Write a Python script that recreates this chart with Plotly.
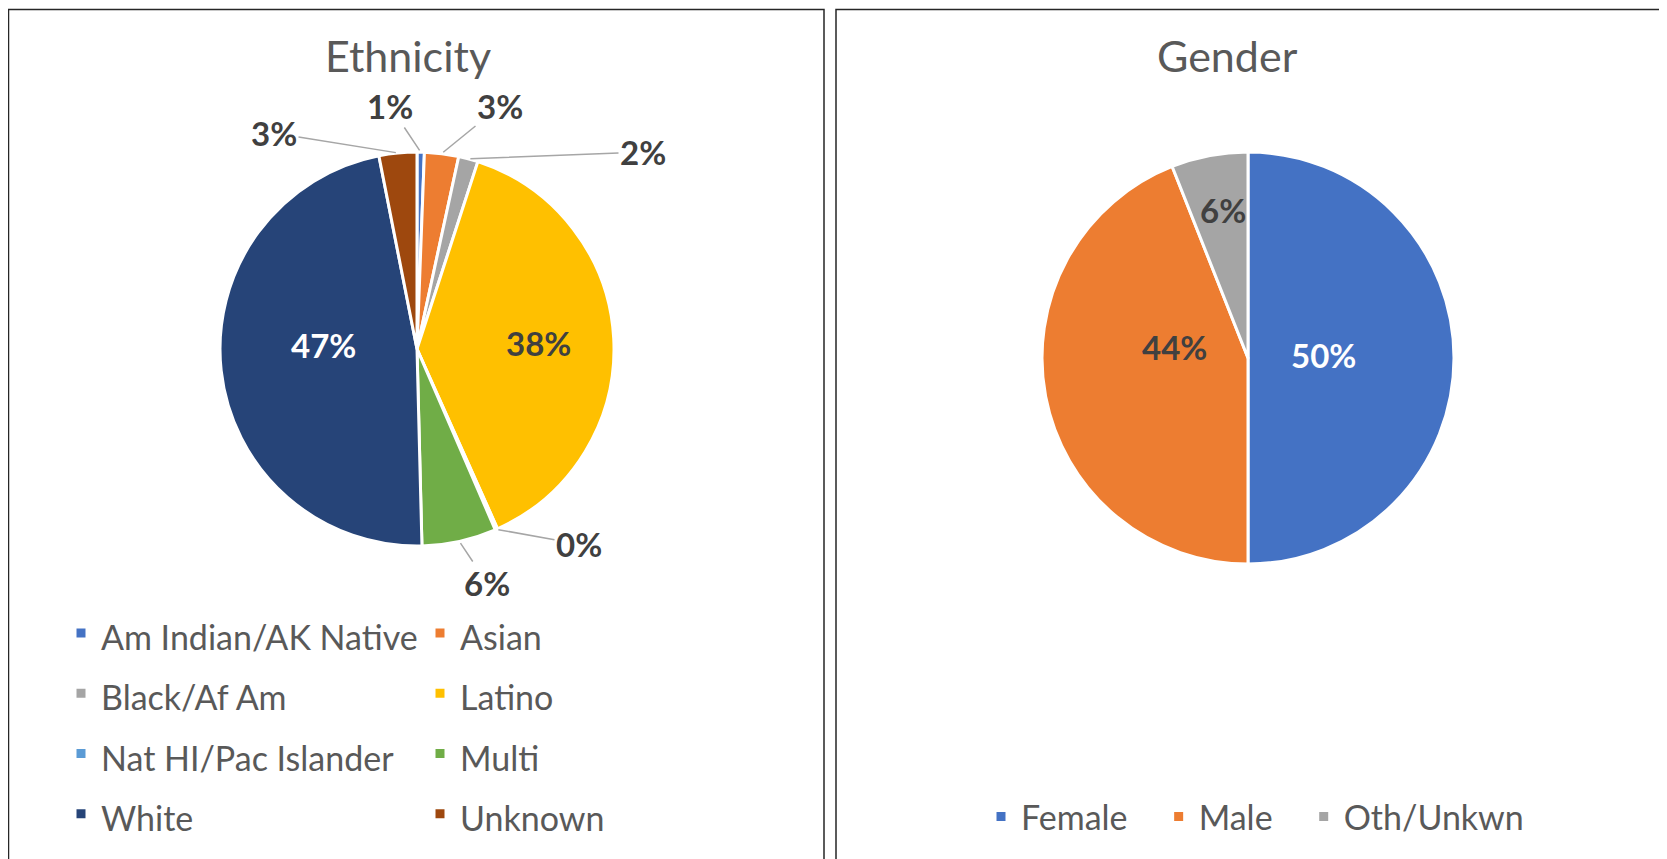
import math
import plotly.graph_objects as go

# ---- data ----
eth_labels = ["Am Indian/AK Native", "Asian", "Black/Af Am", "Latino",
              "Nat HI/Pac Islander", "Multi", "White", "Unknown"]
eth_values = [0.6, 2.8, 1.6, 38.3, 0.2, 6.1, 47.3, 3.1]
eth_colors = ["#4472C4", "#ED7D31", "#A5A5A5", "#FFC000",
              "#5B9BD5", "#70AD47", "#264478", "#9E480E"]
eth_textcol = ["#404040", "#404040", "#404040", "#404040",
               "#404040", "#404040", "#FFFFFF", "#404040"]

gen_labels = ["Female", "Male", "Oth/Unkwn"]
gen_values = [50, 44, 6]
gen_colors = ["#4472C4", "#ED7D31", "#A5A5A5"]
gen_textcol = ["#FFFFFF", "#404040", "#404040"]

# ---- label placement (page px); leader line = True for outside labels ----
eth_label_pos = {0: (390, 106, True), 1: (500, 106, True), 2: (643, 152, True),
                 3: (538, 343, False), 4: (579, 544, True), 5: (487, 583, True),
                 6: (323, 345, False), 7: (274, 133, True)}
gen_label_pos = {0: (1323, 355, False), 1: (1174, 347, False), 2: (1223, 210, False)}

W, H = 1667, 859
ML = 100
PW = W - ML
OFF = 8  # page body margin


def px(x):
    return (x - OFF - ML) / PW


def py(y):
    return (H - (y - OFF)) / H


FONT = "Lato"
LSIZE = 33

eth_legend_labels = ['<span style="font-size:34px">%s</span>' % s for s in eth_labels]
gen_legend_labels = [s + ("\u00a0" * 3 if i < len(gen_labels) - 1 else "")
                     for i, s in enumerate(gen_labels)]

ECX, ECY, ER = 417, 349, 197   # ethnicity pie (page px)
GCX, GCY, GR = 1248, 358, 206  # gender pie (page px)

fig = go.Figure()

fig.add_trace(go.Pie(
    labels=eth_legend_labels, values=eth_values, sort=False, direction="clockwise",
    rotation=0,
    marker=dict(colors=eth_colors, line=dict(color="white", width=3)),
    textinfo="none",
    domain=dict(x=[px(ECX - ER), px(ECX + ER)], y=[py(ECY + ER), py(ECY - ER)]),
    legend="legend", hoverinfo="label+percent",
))

fig.add_trace(go.Pie(
    labels=gen_legend_labels, values=gen_values, sort=False, direction="clockwise",
    rotation=0,
    marker=dict(colors=gen_colors, line=dict(color="white", width=3)),
    textinfo="none",
    domain=dict(x=[px(GCX - GR), px(GCX + GR)], y=[py(GCY + GR), py(GCY - GR)]),
    legend="legend2", hoverinfo="label+percent",
))


def add_labels(values, colors, pos, cx, cy, r):
    total = sum(values)
    cum = 0.0
    for i, v in enumerate(values):
        mid = (cum + v / 2) / total
        cum += v
        lx, ly, leader = pos[i]
        txt = "%d%%" % round(v / total * 100)
        font = dict(family=FONT, size=LSIZE, color=colors[i], weight="bold")
        if leader:
            th = 2 * math.pi * mid
            tx = cx + r * math.sin(th)
            ty = cy - r * math.cos(th)
            fig.add_annotation(
                x=px(tx), y=py(ty), xref="paper", yref="paper",
                ax=lx - tx, ay=ly - ty, axref="pixel", ayref="pixel",
                text=txt, showarrow=True, arrowhead=0, arrowwidth=1.5,
                arrowcolor="#A6A6A6", standoff=2, font=font)
        else:
            fig.add_annotation(
                x=px(lx), y=py(ly), xref="paper", yref="paper",
                xanchor="center", yanchor="middle",
                text=txt, showarrow=False, font=font)


add_labels(eth_values, eth_textcol, eth_label_pos, ECX, ECY, ER)
add_labels(gen_values, gen_textcol, gen_label_pos, GCX, GCY, GR)

# panel borders
for x0, x1 in [(8.5, 824), (836, 1661)]:
    fig.add_shape(type="rect", xref="paper", yref="paper",
                  x0=px(x0), x1=px(x1), y0=py(H + 20), y1=py(9.5),
                  line=dict(color="#262626", width=1.5), fillcolor="rgba(0,0,0,0)")

fig.add_annotation(text="Ethnicity", xref="paper", yref="paper", x=px(408), y=py(56),
                   xanchor="center", yanchor="middle",
                   showarrow=False, font=dict(family=FONT, size=43, color="#595959"))
fig.add_annotation(text="Gender", xref="paper", yref="paper", x=px(1227), y=py(56),
                   xanchor="center", yanchor="middle",
                   showarrow=False, font=dict(family=FONT, size=43, color="#595959"))

fig.update_layout(
    width=W, height=H,
    margin=dict(l=ML, r=0, t=0, b=0, autoexpand=False),
    paper_bgcolor="white", plot_bgcolor="white",
    legend=dict(orientation="h", x=px(61), xanchor="left", y=py(598), yanchor="top",
                entrywidth=314, entrywidthmode="pixels",
                font=dict(family=FONT, size=44, color="#595959"),
                bgcolor="rgba(0,0,0,0)"),
    legend2=dict(orientation="h", x=px(1255), xanchor="center", y=py(817), yanchor="middle",
                 font=dict(family=FONT, size=34, color="#595959"),
                 bgcolor="rgba(0,0,0,0)"),
)

fig.write_html("out.html")
